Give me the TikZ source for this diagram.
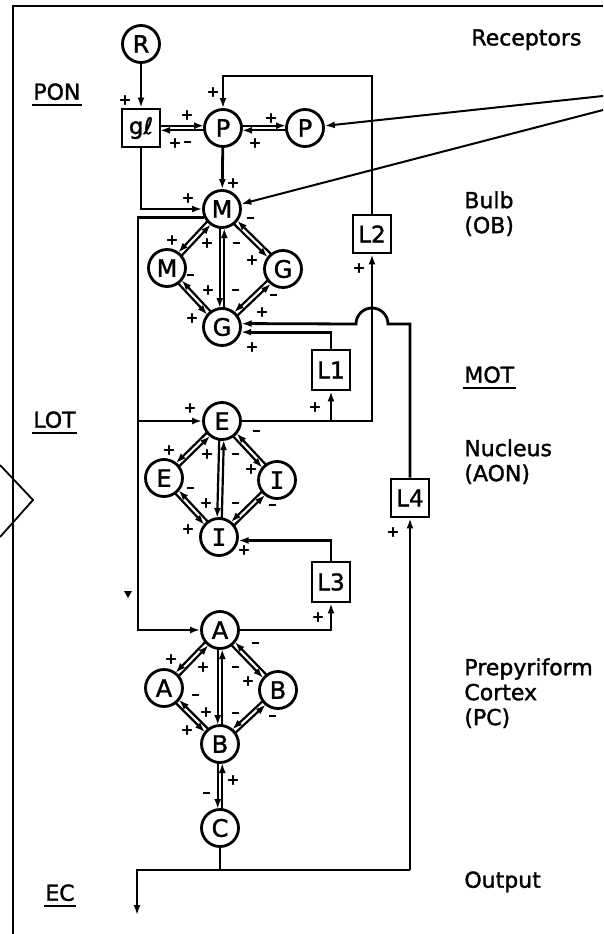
\documentclass[tikz,border=0pt]{standalone}
\usepackage{fontspec}
\setmainfont[FakeBold=1.5]{DejaVu Sans}
\newfontfamily\monoI[FakeBold=1.5]{DejaVu Sans Mono}
\usetikzlibrary{arrows.meta,calc}

% two opposite connections between a pair of cells
\newcommand{\pairline}[3][->]{%
  \draw[#1,line width=2.2pt,shorten >=19pt,shorten <=19pt]
    ($(#2)!2.3pt!-90:(#3)$) -- ($(#3)!2.3pt!90:(#2)$);
  \draw[#1,line width=2.2pt,shorten >=19pt,shorten <=19pt]
    ($(#3)!2.3pt!-90:(#2)$) -- ($(#2)!2.3pt!90:(#3)$);
}

\begin{document}
\begin{tikzpicture}[x=1pt,y=-1pt,line width=2.8pt,
    >={Latex[length=10pt,width=7pt]},
    cell/.style={circle,draw,minimum size=37pt,inner sep=0pt,font=\fontsize{24}{24}\selectfont},
    box/.style={rectangle,draw,minimum size=38pt,inner sep=0pt,font=\fontsize{23}{23}\selectfont},
    sign/.style={inner sep=0pt,font=\fontsize{15}{15}\selectfont\bfseries},
    lab/.style={anchor=north west,inner sep=0pt,align=left,font=\fontsize{22}{25}\selectfont}]
    \useasboundingbox (0,0) rectangle (603,934);

    % Frame
    \draw[line width=2.2pt] (13,934) -- (13,6) -- (603,6);
    \draw[line width=1.8pt] (0,465) -- (33,500) -- (0,537);

    % Receptors and bulb
    \node[cell] (R) at (141,44) {R};
    \node[box] (gl) at (141,128) {gℓ};
    \node[cell] (P1) at (223,128) {P};
    \node[cell] (P2) at (305,128) {P};
    \node[cell] (M1) at (222,209) {M};
    \node[cell] (M2) at (167,268) {M};
    \node[cell] (G2) at (283,269) {G};
    \node[cell] (G1) at (222,327) {G};
    \node[box] (L2) at (372,234) {L2};
    \node[box,minimum height=40pt] (L1) at (331,370) {L1};

    % Nucleus
    \node[cell] (E1) at (222,421) {E};
    \node[cell] (E2) at (164,478) {E};
    \node[cell] (I2) at (277,480) {\monoI I};
    \node[cell] (I1) at (219,537) {\monoI I};
    \node[box] (L4) at (410,498) {L4};
    \node[box,minimum height=40pt] (L3) at (331,582) {L3};

    % Cortex
    \node[cell] (A1) at (220,630) {A};
    \node[cell] (A2) at (164,688) {A};
    \node[cell] (B2) at (278,690) {B};
    \node[cell] (B1) at (220,744) {B};
    \node[cell] (C) at (220,828) {C};

    % Loose ends
    \coordinate (in1) at (603,96);
    \coordinate (in2) at (603,110);
    \coordinate (ring) at (300,76);
    \coordinate (lot) at (138,630);
    \coordinate (bump) at (388,324);
    \coordinate (ec) at (137,870);
    \coordinate (ecend) at (137,915);

    % Input side
    \draw[->] (R) -- (gl);
    \pairline[<-]{gl}{P1}
    \pairline[<-]{P1}{P2}
    \draw[->] (P1) -- (M1);
    \draw[->] (gl.south) |- (M1.west);
    \draw[->,line width=2pt] (in1) -- (P2);
    \draw[->,line width=2pt] (in2) -- (M1);

    % Diamonds
    \foreach \t/\l/\r/\b in {M1/M2/G2/G1, E1/E2/I2/I1, A1/A2/B2/B1} {
        \pairline{\t}{\l}
        \pairline{\t}{\b}
        \pairline{\t}{\r}
        \pairline{\l}{\b}
        \pairline{\r}{\b}
    }
    \pairline{B1}{C}

    % LOT
    \draw[->] (M1.205) -| (lot) -- (A1.west);
    \draw[->] (lot |- E1) -- (E1.west);

    % Feedback loops
    \draw[->] (E1.east) -| (L2.south);
    \draw[->] (L1.south |- E1) -- (L1.south);
    \draw[->] (L2.north) |- (ring) -| (P1.north);
    \draw[->] (L1.north) |- (G1.-15);
    \draw[->] (L4.north) |- (bump) arc[start angle=0,end angle=180,radius=16pt] -- (G1.10);
    \draw[->] (A1.east) -| (L3.south);
    \draw[->] (L3.north) |- (I1.-10);

    % Output
    \draw (C.south) -- (C.south |- ec);
    \draw[->] (L4.south |- ec) -- (L4.south);
    \draw[->] (L4.south |- ec) -- (ec) -- (ecend);
    \fill (124,591) -- (132,591) -- (128,598) -- cycle;

    % Signs
    \foreach \sx/\sy [count=\k] in {125/100, 187/115, 175/143, 271/118, 255/143,
        233/183, 188/198, 213/92, 359/268, 172/240, 207/243, 252/260, 208/290,
        192/318, 262/312, 252/347, 315/407, 190/408, 169/450, 207/454, 251/469,
        206/503, 188/529, 244/550, 393/532, 318/617, 171/659, 203/667, 248/681,
        206/712, 187/730, 233/780}
        \node[sign] (plus\k) at (\sx,\sy) {+};
    \foreach \sx/\sy [count=\k] in {187/142, 250/218, 236/243, 190/275, 235/290,
        273/295, 256/431, 235/454, 190/488, 235/503, 272/505, 255/643, 235/667,
        195/695, 235/713, 272/716, 206/793}
        \node[sign] (minus\k) at (\sx,\sy) {\rule{7pt}{2.2pt}};

    % Labels
    \node[lab] (receptors) at (470,28) {Receptors};
    \node[lab] (pon) at (32,82) {PON};
    \node[lab] (bulb) at (463,190) {Bulb\\(OB)};
    \node[lab] (mot) at (463,365) {MOT};
    \node[lab] (lotlab) at (32,410) {LOT};
    \node[lab] (nucleus) at (463,438) {Nucleus\\(AON)};
    \node[lab] (cortex) at (463,657) {Prepyriform\\Cortex\\(PC)};
    \node[lab] (output) at (463,870) {Output};
    \node[lab] (eclab) at (44,883) {EC};
    \foreach \n in {pon,mot,lotlab,eclab}
        \draw[line width=2pt] ([yshift=-5pt]\n.base west) -- ([yshift=-5pt]\n.base east);
\end{tikzpicture}
\end{document}
